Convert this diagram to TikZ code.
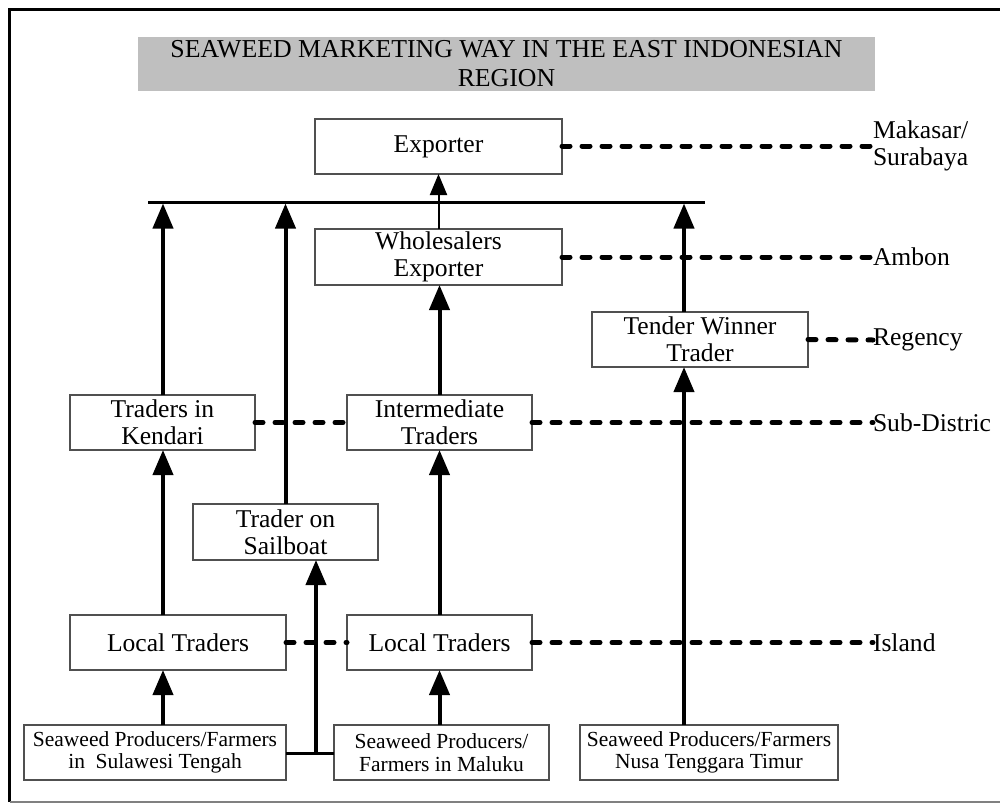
\documentclass[tikz,border=0pt]{standalone}
\usepackage{fontspec}
\setmainfont{Liberation Serif}
\usetikzlibrary{arrows.meta}
\definecolor{titlegray}{HTML}{BFBFBF}
\definecolor{boxline}{HTML}{505050}
\begin{document}
\begin{tikzpicture}[x=0.5pt,y=-0.5pt,
  every node/.style={inner sep=0pt,outer sep=0pt},
  box/.style={draw=boxline,line width=0.8pt,rectangle,align=center,
    font=\fontsize{12.8pt}{13.5pt}\selectfont},
  smallbox/.style={box,font=\fontsize{10.75pt}{11.3pt}\selectfont},
  lbl/.style={anchor=west,align=left,font=\fontsize{12.8pt}{13.5pt}\selectfont},
  flow/.style={line width=2pt,-{Triangle[width=10pt,length=12.5pt]}},
  thinflow/.style={line width=1pt,-{Triangle[width=8.5pt,length=10.5pt]}},
  level/.style={line width=2.5pt,line cap=round,dash pattern=on 4pt off 6pt},
  link/.style={line width=1.5pt}]
\useasboundingbox (0,0) rectangle (1000,803);
% frame
\draw[line width=1.75pt] (9.5,802) -- (9.5,9.5) -- (1000,9.5);
\draw[gray,line width=0.75pt] (9.5,802) -- (1000,802);
% title
\node[fill=titlegray,minimum width=368.5pt,minimum height=27pt,align=center,
  font=\fontsize{12.9pt}{14.5pt}\selectfont] (title) at (506.5,64)
  {SEAWEED MARKETING WAY IN THE EAST INDONESIAN\\REGION};
% nodes
\node[box,minimum width=123.5pt,minimum height=27.5pt] (exp) at (438.5,146.5) {Exporter};
\node[box,minimum width=123.5pt,minimum height=28pt] (whole) at (438.5,257) {Wholesalers\\Exporter};
\node[box,minimum width=108pt,minimum height=27.5pt] (tender) at (700,339.5) {Tender Winner\\Trader};
\node[box,minimum width=92.5pt,minimum height=27.5pt] (kendari) at (162.5,422.5) {Traders in\\Kendari};
\node[box,minimum width=92.5pt,minimum height=27.5pt] (inter) at (439.5,422.5) {Intermediate\\Traders};
\node[box,minimum width=92.5pt,minimum height=28pt] (sail) at (285.5,532) {Trader on\\Sailboat};
\node[box,minimum width=108pt,minimum height=27.5pt] (lt1) at (178,642.5) {Local Traders};
\node[box,minimum width=92.5pt,minimum height=27.5pt] (lt2) at (439.5,642.5) {Local Traders};
\node[smallbox,minimum width=131pt,minimum height=27.5pt] (sul) at (155,752.5) {Seaweed Producers/Farmers\\in\ \ Sulawesi Tengah};
\node[smallbox,minimum width=107.5pt,minimum height=27.5pt] (mal) at (441.5,752.5) {Seaweed Producers/\\Farmers in Maluku};
\node[smallbox,minimum width=129pt,minimum height=27.5pt] (ntt) at (709,752.5) {Seaweed Producers/Farmers\\Nusa Tenggara Timur};
% labels
\node[lbl] (lmak) at (873,146) {Makasar/\\Surabaya};
\node[lbl] (lamb) at (873,257) {Ambon};
\node[lbl] (lreg) at (873,340) {Regency};
\node[lbl] (lsub) at (873,422.5) {Sub-Distric};
\node[lbl] (lisl) at (873,642.5) {Island};
% bar
\coordinate (barL) at (148,202);
\coordinate (barR) at (705,202);
\coordinate (b1) at (163,203.5);
\coordinate (b2) at (285.5,203.5);
\coordinate (b3) at (684,203.5);
\coordinate (j) at (316,753);
\draw[line width=1.5pt] (barL) -- (barR);
% level lines
\draw[level] (exp.east |- lmak.west) -- (lmak.west);
\draw[level] (whole.east) -- (lamb.west);
\draw[level] (tender.east) -- (lreg.west);
\draw[level] (kendari.east) -- (inter.west);
\draw[level] (inter.east) -- (lsub.west);
\draw[level] (lt1.east) -- (lt2.west);
\draw[level] (lt2.east) -- (lisl.west);
% flows
\draw[thinflow] (whole.north) -- (exp.south);
\draw[flow] (b1 |- kendari.north) -- (b1);
\draw[flow] (sail.north) -- (b2);
\draw[flow] (b3 |- tender.north) -- (b3);
\draw[flow] (b1 |- sul.north) -- (b1 |- lt1.south);
\draw[flow] (b1 |- lt1.north) -- (b1 |- kendari.south);
\draw[flow] (lt2.south |- mal.north) -- (lt2.south);
\draw[flow] (lt2.north) -- (inter.south);
\draw[flow] (inter.north) -- (inter.north |- whole.south);
\draw[flow] (b3 |- ntt.north) -- (b3 |- tender.south);
\draw[link] (sul.east |- j) -- (mal.west |- j);
\draw[flow] (j) -- (j |- sail.south);
\end{tikzpicture}
\end{document}
